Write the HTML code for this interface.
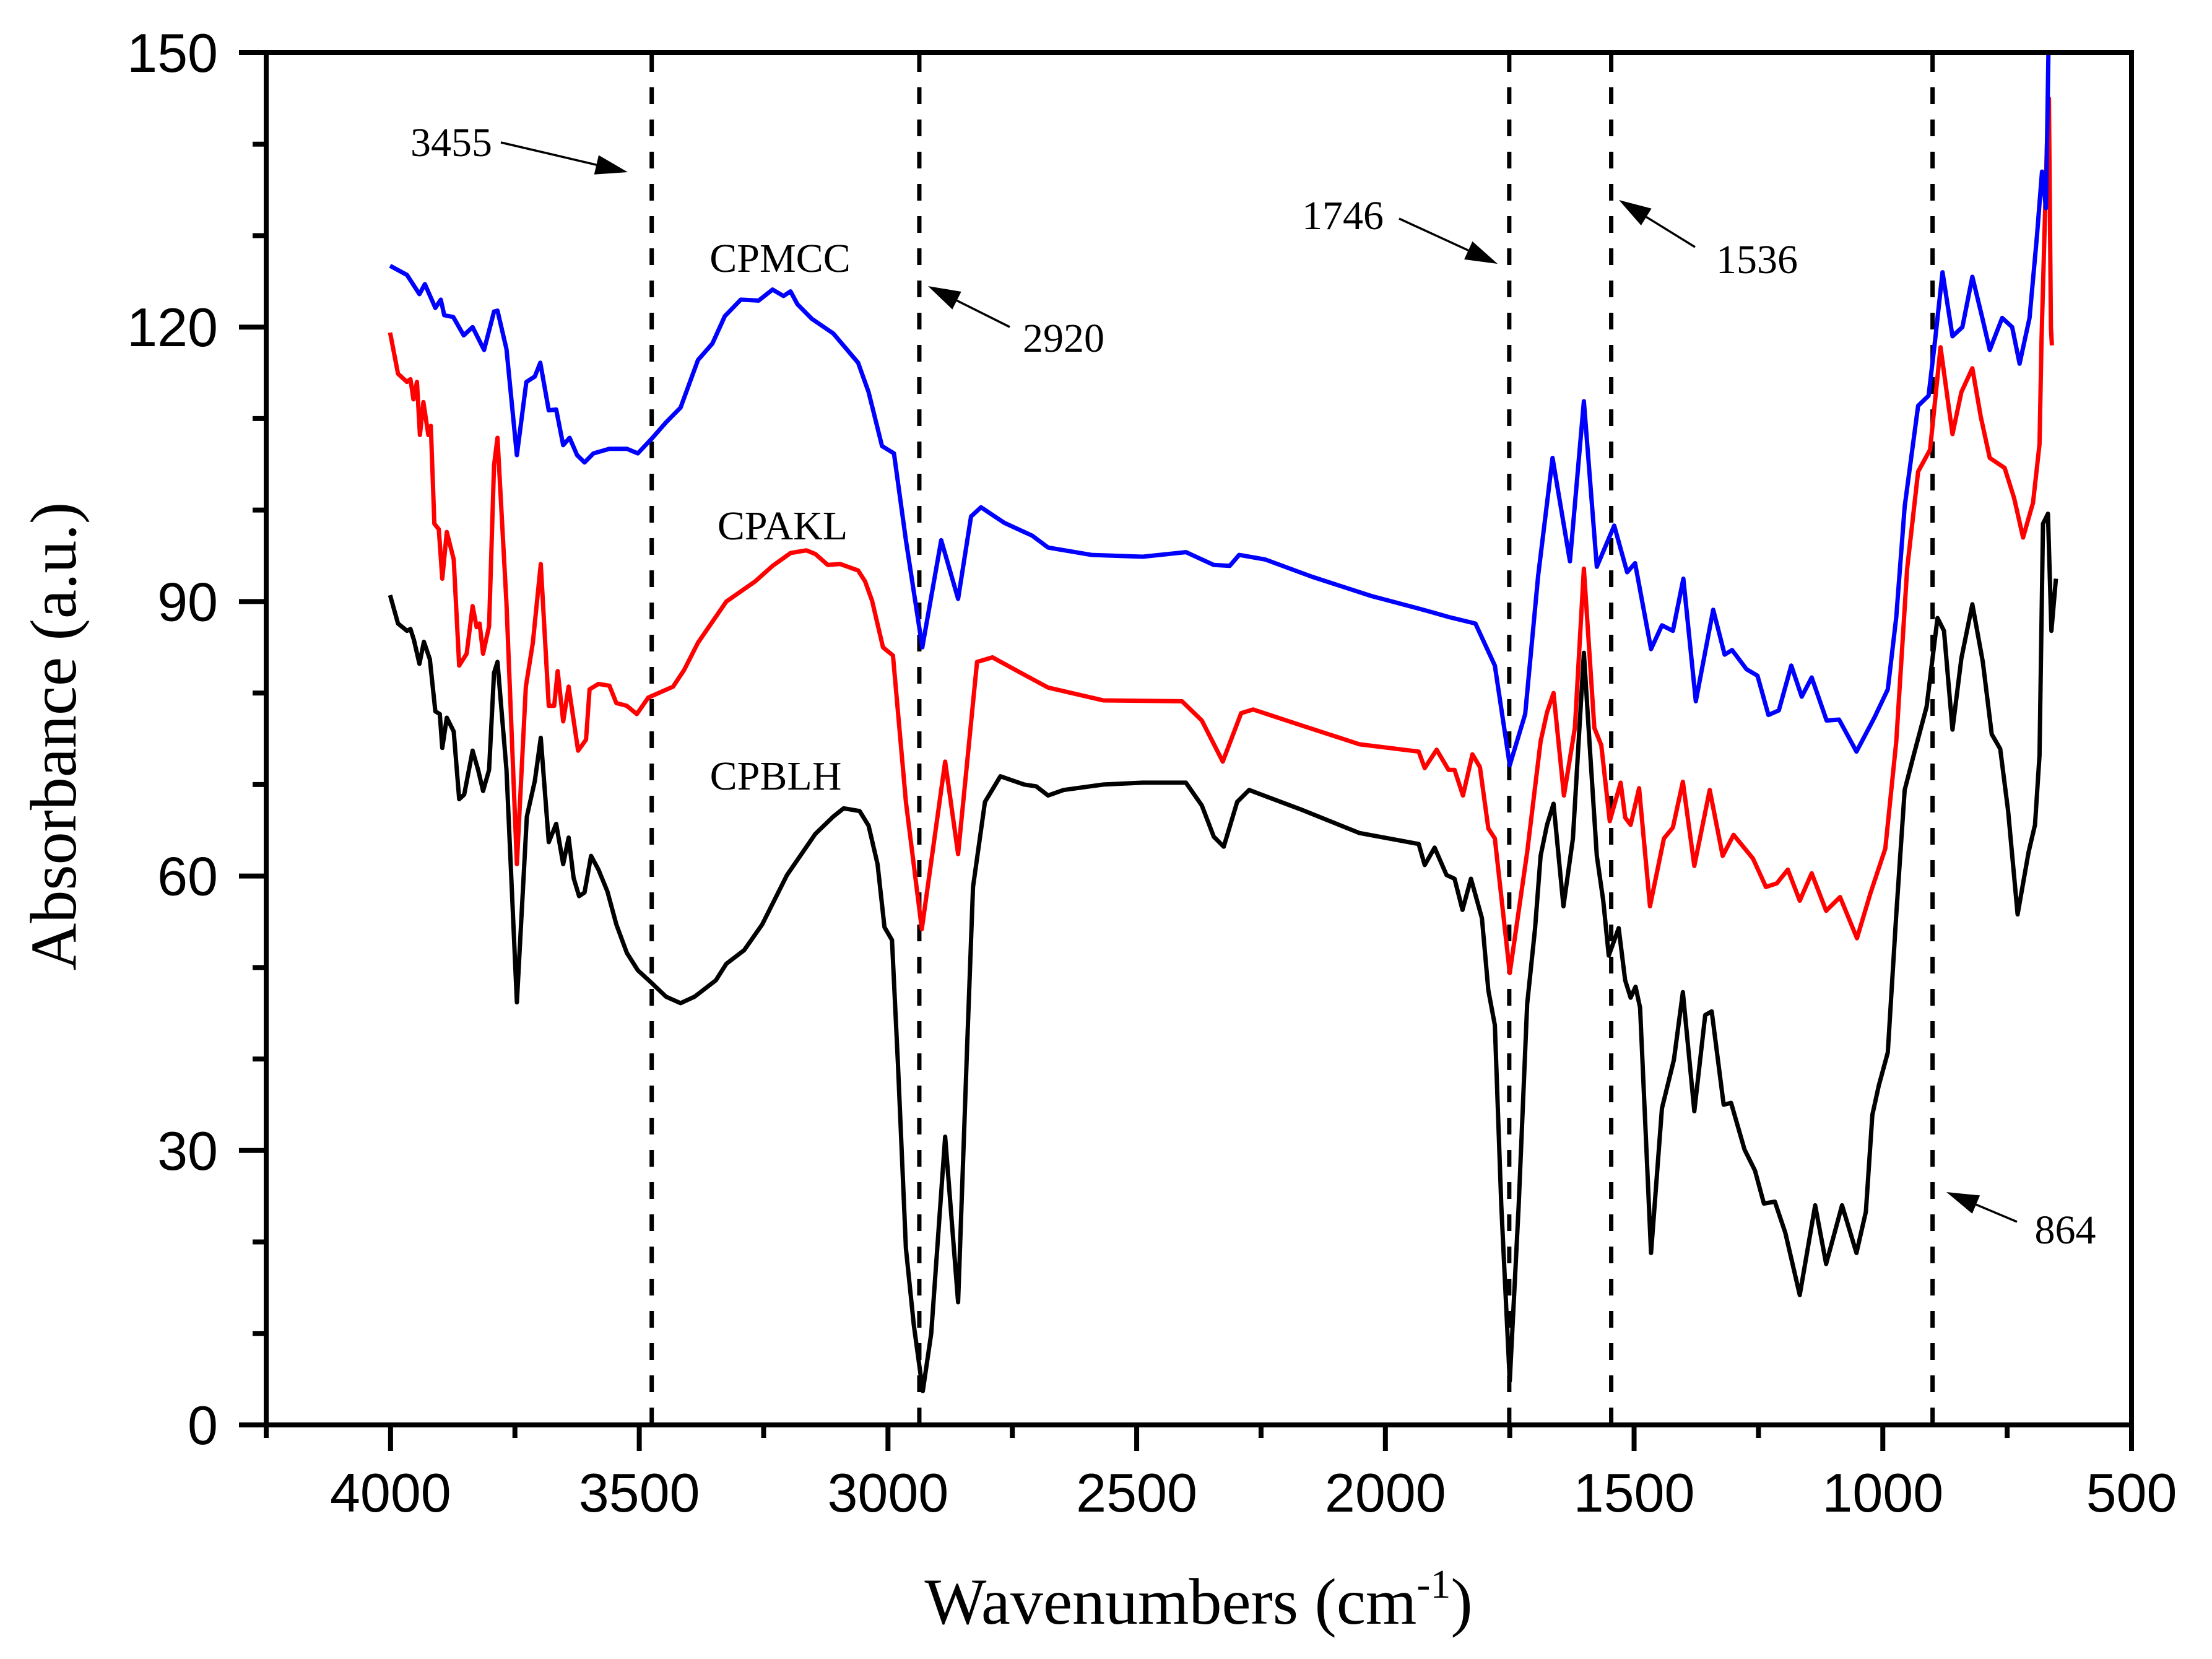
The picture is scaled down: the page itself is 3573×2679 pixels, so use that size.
<!DOCTYPE html>
<html><head><meta charset="utf-8">
<style>
html,body{margin:0;padding:0;background:#fff;}
svg{display:block;}
.tick{font-family:"Liberation Sans",Arial,sans-serif;font-size:88px;fill:#000;}
.ann{font-family:"Liberation Serif","Times New Roman",serif;font-size:66px;fill:#000;}
.title{font-family:"Liberation Serif","Times New Roman",serif;font-size:106px;fill:#000;}
</style></head>
<body>
<svg id="chart" width="3573" height="2679" viewBox="0 0 3573 2679" xmlns="http://www.w3.org/2000/svg">
<g id="marks"></g>
<g id="axes"></g>
<g id="labels"></g>
</svg>
<script>
// ---- data ----
const xTicks = [4000, 3500, 3000, 2500, 2000, 1500, 1000, 500];
const yTicks = [0, 30, 60, 90, 120, 150];
const markerLines = [3475, 2937, 1751, 1546, 900];

const blueWn = [4001,3967,3942,3931,3910,3899,3892,3874,3853,3835,3812,3792,3785,3767,3746,3727,3710,3699,3682,3667,3653,3640,3625,3610,3592,3560,3525,3503,3475,3446,3417,3382,3353,3328,3296,3260,3232,3210,3196,3182,3153,3110,3060,3039,3012,2988,2964,2931,2893,2859,2833,2813,2766,2710,2678,2591,2488,2401,2345,2313,2294,2242,2147,2028,1917,1872,1819,1780,1750,1719,1693,1664,1629,1601,1575,1540,1514,1498,1466,1444,1422,1401,1376,1341,1318,1303,1274,1252,1230,1209,1184,1163,1143,1113,1088,1053,1017,990,973,956,929,908,895,880,860,840,820,800,785,760,740,725,705,690,680,672,667];
const blueVal = [126.7,125.7,123.6,124.7,122.1,123.0,121.3,121.1,119.1,120.0,117.5,121.7,121.8,117.6,106.0,114.0,114.6,116.1,110.9,111.0,107.1,107.9,106.0,105.2,106.2,106.7,106.7,106.2,107.8,109.6,111.2,116.4,118.2,121.2,123.0,122.9,124.1,123.4,123.9,122.5,120.9,119.3,116.1,112.9,107.0,106.2,96.7,85.0,96.7,90.3,99.3,100.3,98.6,97.2,95.9,95.1,94.9,95.4,94.0,93.9,95.1,94.6,92.7,90.6,89.0,88.3,87.6,83.0,72.1,77.7,92.8,105.7,94.4,111.9,93.8,98.3,93.2,94.2,84.8,87.4,86.8,92.5,79.1,89.1,84.2,84.7,82.6,81.9,77.6,78.1,83.0,79.6,81.7,77.0,77.1,73.6,77.3,80.4,88.3,100.4,111.4,112.5,118.5,126.0,119.0,120.0,125.5,121.0,117.5,121.0,120.0,116.0,121.0,130.0,137.0,133.0,150.0];

const redWn = [4001,3985,3967,3960,3954,3947,3941,3934,3924,3919,3912,3903,3896,3887,3873,3862,3847,3835,3827,3821,3814,3802,3792,3785,3767,3746,3728,3714,3698,3682,3671,3664,3653,3642,3623,3607,3600,3582,3560,3546,3525,3505,3482,3432,3410,3382,3325,3267,3232,3196,3164,3146,3121,3096,3060,3046,3032,3010,2990,2964,2932,2885,2859,2821,2790,2726,2678,2567,2409,2369,2327,2290,2266,2171,2052,1933,1921,1897,1873,1861,1844,1825,1810,1793,1780,1750,1715,1688,1675,1662,1641,1619,1601,1580,1566,1549,1527,1518,1507,1490,1468,1440,1422,1402,1379,1348,1322,1300,1261,1235,1213,1191,1167,1143,1114,1086,1052,1025,995,973,951,929,905,884,860,842,820,803,785,755,736,718,698,685,681,670,666,662,660];
const redVal = [119.4,114.9,114.0,114.3,112.1,114.0,108.2,111.8,108.2,109.2,98.5,97.9,92.5,97.6,94.6,83.0,84.3,89.5,87.2,87.6,84.3,87.3,104.9,107.9,89.8,61.3,80.7,85.5,94.1,78.6,78.6,82.4,76.9,80.7,73.7,74.9,80.4,81.0,80.8,78.9,78.6,77.7,79.5,80.7,82.5,85.5,90.0,92.2,93.9,95.3,95.6,95.2,94.0,94.1,93.4,92.2,90.1,85.0,84.1,68.1,54.2,72.5,62.4,83.4,83.9,82.0,80.6,79.2,79.1,77.0,72.5,77.8,78.2,76.5,74.4,73.6,71.8,73.8,71.6,71.6,68.8,73.3,71.9,65.2,64.1,49.4,62.6,74.7,77.9,80.0,68.8,76.2,93.6,76.2,74.3,66.0,70.2,66.4,65.6,69.6,56.7,64.1,65.3,70.3,61.1,69.4,62.2,64.5,61.9,58.8,59.2,60.7,57.3,60.3,56.2,57.7,53.2,58.1,63.0,74.7,93.6,104.2,106.6,117.8,108.3,112.9,115.5,110.2,105.7,104.6,101.3,97.0,100.8,107.2,118.5,140.0,145.0,120.0,118.0];

const blackWn = [4001,3985,3967,3960,3953,3942,3933,3921,3910,3901,3896,3887,3873,3862,3852,3835,3824,3814,3802,3792,3785,3767,3746,3726,3710,3698,3682,3667,3653,3642,3632,3621,3610,3597,3582,3564,3546,3525,3503,3475,3446,3417,3389,3346,3325,3289,3253,3203,3146,3110,3089,3057,3039,3021,3007,2992,2980,2964,2948,2930,2913,2885,2859,2841,2829,2805,2774,2726,2702,2678,2647,2567,2488,2401,2369,2345,2325,2298,2274,2171,2052,1933,1921,1901,1877,1861,1845,1828,1806,1793,1780,1767,1750,1732,1715,1699,1688,1675,1662,1642,1623,1601,1588,1575,1562,1551,1531,1518,1507,1497,1488,1466,1444,1420,1402,1379,1357,1344,1320,1305,1278,1257,1239,1217,1196,1167,1136,1114,1082,1053,1034,1021,1008,990,973,956,938,912,890,877,860,842,820,799,781,764,748,729,707,694,685,678,668,661,652];
const blackVal = [90.7,87.6,86.8,87.0,85.8,83.2,85.6,83.7,78.0,77.7,74.0,77.3,75.8,68.4,68.9,73.7,71.6,69.3,71.6,82.2,83.4,71.6,46.2,66.5,70.4,75.1,63.7,65.7,61.3,64.2,59.8,57.8,58.2,62.2,60.7,58.3,54.7,51.6,49.7,48.3,46.8,46.1,46.8,48.6,50.4,51.9,54.7,60.1,64.6,66.5,67.4,67.1,65.5,61.3,54.4,53.0,39.5,19.3,10.9,3.7,10.0,31.5,13.4,41.2,58.8,68.1,70.9,70.0,69.8,68.8,69.4,70.0,70.2,70.2,67.7,64.3,63.2,68.1,69.4,67.3,64.7,63.5,61.2,63.1,60.1,59.7,56.3,59.7,55.4,47.5,43.7,24.0,4.8,24.0,46.0,54.3,62.2,65.6,67.9,56.7,64.1,84.4,73.2,62.2,57.3,51.3,54.3,48.6,46.7,47.9,45.6,18.8,34.6,39.9,47.3,34.3,44.8,45.2,35.0,35.2,30.1,27.8,24.2,24.4,21.0,14.2,24.0,17.6,24.0,18.8,23.3,33.9,37.1,40.7,55.8,69.4,73.2,78.5,88.2,86.8,76.0,83.8,89.7,83.4,75.5,73.9,67.1,55.8,62.6,65.6,73.2,98.5,99.6,86.8,92.5];

// ---- layout ----
const L = 430, R = 3443, T = 85, B = 2301;
const X0 = 4250, X1 = 500, Y0 = 0, Y1 = 150;
function sx(v){ return L + (X0 - v) / (X0 - X1) * (R - L); }
function sy(v){ return B - (v - Y0) / (Y1 - Y0) * (B - T); }
const NS = 'http://www.w3.org/2000/svg';
function mk(tag, attrs, parent){
  const e = document.createElementNS(NS, tag);
  for (const k in attrs) e.setAttribute(k, attrs[k]);
  parent.appendChild(e); return e;
}
const marks = document.getElementById('marks');
const axes = document.getElementById('axes');
const labels = document.getElementById('labels');

const defs = mk('defs', {}, marks);
const cp = mk('clipPath', {id:'clip'}, defs);
mk('rect', {x:L, y:T, width:R-L, height:B-T}, cp);

markerLines.forEach(v => {
  const l = mk('line', {x1:sx(v), x2:sx(v), y1:T+4, y2:B, stroke:'#000', 'stroke-width':7, 'stroke-dasharray':'27 25'}, marks);
  
  
});

function drawSeries(wn, vals, color, name){
  let d = '';
  for (let i = 0; i < wn.length; i++) d += (i ? 'L' : 'M') + sx(wn[i]).toFixed(1) + ',' + sy(vals[i]).toFixed(1);
  const p = mk('path', {d:d, fill:'none', stroke:color, 'stroke-width':7, 'stroke-linejoin':'round', 'clip-path':'url(#clip)'}, marks);
  
  
}
drawSeries(blackWn, blackVal, '#000', 'series-cpblh');
drawSeries(redWn, redVal, '#ff0000', 'series-cpakl');
drawSeries(blueWn, blueVal, '#0000ff', 'series-cpmcc');

const fr = mk('rect', {x:L, y:T, width:R-L, height:B-T, fill:'none', stroke:'#000', 'stroke-width':8}, axes);



for (let v = 4250; v >= 500; v -= 250) {
  const major = (v % 500 === 0);
  const t = mk('line', {x1:sx(v), x2:sx(v), y1:B, y2:B + (major ? 42 : 21), stroke:'#000', 'stroke-width':8}, axes);
  
  
}
xTicks.forEach(v => {
  const t = mk('text', {x:sx(v), y:2441, 'text-anchor':'middle', class:'tick'}, axes);
  t.textContent = v;
  
  
});
for (let v = 0; v <= 150; v += 10) {
  const major = (v % 30 === 0);
  const t = mk('line', {x1:L - (major ? 44 : 22), x2:L, y1:sy(v), y2:sy(v), stroke:'#000', 'stroke-width':8}, axes);
  
  
}
yTicks.forEach(v => {
  const t = mk('text', {x:352, y:sy(v) + 31, 'text-anchor':'end', class:'tick'}, axes);
  t.textContent = v;
  
  
});

const yt = mk('text', {x:0, y:0, 'text-anchor':'middle', class:'title', transform:'translate(122,1189) rotate(-90)'}, axes);
yt.textContent = 'Absorbance (a.u.)';


const xt = mk('text', {x:1936, y:2622, 'text-anchor':'middle', class:'title'}, axes);
xt.innerHTML = 'Wavenumbers (cm<tspan dy="-42" font-size="66">-1</tspan><tspan dy="42">)</tspan>';



[['CPMCC',1260,439],['CPAKL',1264,871],['CPBLH',1253,1275]].forEach(s => {
  const t = mk('text', {x:s[1], y:s[2], 'text-anchor':'middle', class:'ann'}, labels);
  t.textContent = s[0];
  
  
});

const anns = [
  ['3455', 729, 252, 809, 230, 1014, 278],
  ['2920', 1718, 568, 1631, 528, 1499, 462],
  ['1746', 2169, 370, 2260, 353, 2419, 426],
  ['1536', 2838, 441, 2738, 399, 2615, 323],
  ['864', 3336, 2008, 3258, 1973, 3144, 1925]
];
anns.forEach(a => {
  const t = mk('text', {x:a[1], y:a[2], 'text-anchor':'middle', class:'ann'}, labels);
  t.textContent = a[0];
  
  
  const x1 = a[3], y1 = a[4], x2 = a[5], y2 = a[6];
  const dx = x2 - x1, dy = y2 - y1, len = Math.hypot(dx, dy), ux = dx/len, uy = dy/len;
  const hl = 52, hw = 16;
  const bx = x2 - ux*hl, by = y2 - uy*hl;
  const ln = mk('line', {x1:x1, y1:y1, x2:bx, y2:by, stroke:'#000', 'stroke-width':3.5}, labels);
  
  
  const pts = [x2+','+y2, (bx - uy*hw)+','+(by + ux*hw), (bx + uy*hw)+','+(by - ux*hw)].join(' ');
  const hd = mk('polygon', {points:pts, fill:'#000'}, labels);
  
  
});
</script>
</body></html>
